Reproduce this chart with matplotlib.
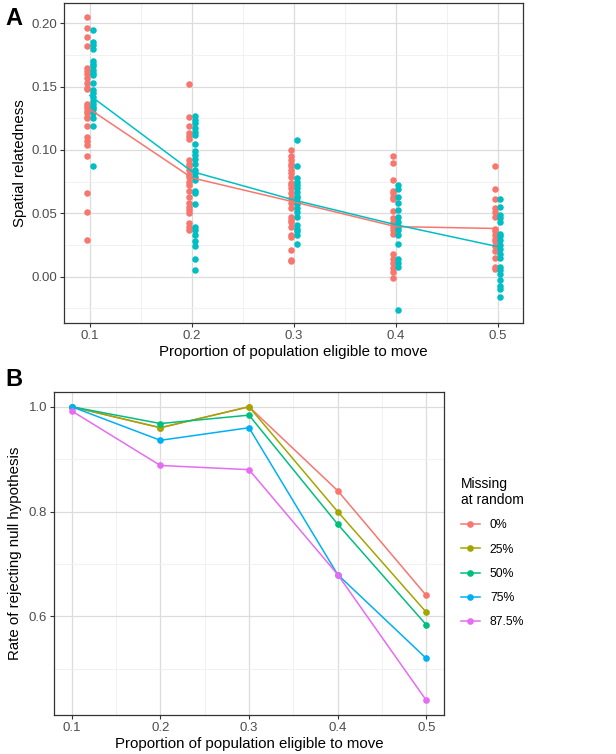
import matplotlib.pyplot as plt
import numpy as np

plt.rcParams['font.family'] = ['Liberation Sans', 'DejaVu Sans']

# panel A: spatial relatedness per proportion eligible to move
props = [0.1, 0.2, 0.3, 0.4, 0.5]
red_pts = [
    [0.205, 0.196, 0.189, 0.182, 0.165, 0.162, 0.160, 0.157, 0.153, 0.149, 0.148, 0.136, 0.135,
     0.133, 0.131, 0.129, 0.126, 0.125, 0.119, 0.110, 0.107, 0.104, 0.095, 0.066, 0.051, 0.029],
    [0.152, 0.126, 0.119, 0.113, 0.111, 0.109, 0.092, 0.089, 0.087, 0.084, 0.080, 0.079, 0.075,
     0.072, 0.068, 0.063, 0.058, 0.055, 0.053, 0.050, 0.042, 0.039, 0.037],
    [0.100, 0.095, 0.092, 0.089, 0.087, 0.084, 0.082, 0.079, 0.074, 0.072, 0.070, 0.066, 0.062,
     0.058, 0.054, 0.047, 0.045, 0.043, 0.039, 0.033, 0.031, 0.021, 0.013, 0.012],
    [0.095, 0.090, 0.076, 0.068, 0.066, 0.063, 0.061, 0.052, 0.046, 0.043, 0.039, 0.037, 0.034,
     0.018, 0.014, 0.011, 0.007, 0.004, -0.001],
    [0.087, 0.069, 0.061, 0.054, 0.051, 0.047, 0.038, 0.036, 0.033, 0.030, 0.028, 0.024, 0.020,
     0.015, 0.008, 0.006],
]
teal_pts = [
    [0.195, 0.185, 0.183, 0.180, 0.170, 0.168, 0.166, 0.163, 0.161, 0.159, 0.153, 0.147, 0.145,
     0.142, 0.139, 0.136, 0.134, 0.132, 0.129, 0.125, 0.119, 0.087],
    [0.127, 0.124, 0.121, 0.117, 0.114, 0.112, 0.105, 0.099, 0.096, 0.093, 0.089, 0.084, 0.082,
     0.079, 0.076, 0.068, 0.066, 0.057, 0.039, 0.037, 0.033, 0.028, 0.024, 0.014, 0.005],
    [0.108, 0.087, 0.078, 0.075, 0.072, 0.070, 0.067, 0.064, 0.062, 0.059, 0.057, 0.054, 0.051,
     0.047, 0.041, 0.038, 0.036, 0.033, 0.026],
    [0.072, 0.069, 0.063, 0.058, 0.053, 0.047, 0.043, 0.039, 0.037, 0.033, 0.026, 0.014, 0.011,
     0.008, -0.026],
    [0.061, 0.055, 0.049, 0.046, 0.043, 0.034, 0.032, 0.029, 0.025, 0.022, 0.018, 0.015, 0.008,
     0.005, 0.002, -0.003, -0.007, -0.010, -0.016],
]
red_mean = [0.132, 0.078, 0.059, 0.0395, 0.038]
teal_mean = [0.143, 0.083, 0.0605, 0.041, 0.0237]

# panel B: rejection rate by missingness
missing = ['0%', '25%', '50%', '75%', '87.5%']
rates = [
    [1.0, 0.96, 1.0, 0.84, 0.64],
    [1.0, 0.96, 1.0, 0.80, 0.608],
    [1.0, 0.968, 0.984, 0.776, 0.584],
    [1.0, 0.936, 0.96, 0.68, 0.52],
    [0.992, 0.888, 0.88, 0.68, 0.44],
]
hue5 = ['#F8766D', '#A3A500', '#00BF7D', '#00B0F6', '#E76BF3']


def style_ax(ax):
    ax.set_facecolor('white')
    for s in ax.spines.values():
        s.set_color('#333333')
        s.set_linewidth(0.9)
    ax.grid(True, which='major', color='#DCDCDC', linewidth=0.9)
    ax.grid(True, which='minor', color='#EFEFEF', linewidth=0.6)
    ax.set_axisbelow(True)
    ax.tick_params(which='major', length=3, width=0.8, color='#333333',
                   labelsize=9.5, labelcolor='#4D4D4D', pad=2)
    ax.tick_params(which='minor', length=0)


fig = plt.figure(figsize=(6.16, 7.54), dpi=100)

axA = fig.add_axes([0.1039, 0.5716, 0.7451, 0.4244])
style_ax(axA)
for i, x in enumerate(props):
    axA.scatter(np.full(len(red_pts[i]), x - 0.0026), red_pts[i], s=22, color='#F8766D',
                linewidths=0, zorder=3)
    axA.scatter(np.full(len(teal_pts[i]), x + 0.0026), teal_pts[i], s=22, color='#00BFC4',
                linewidths=0, zorder=3)
axA.plot(props, red_mean, color='#F8766D', lw=1.1, zorder=4)
axA.plot(props, teal_mean, color='#00BFC4', lw=1.1, zorder=4)
axA.set_xlim(0.0745, 0.5248)
axA.set_ylim(-0.0366, 0.216)
axA.set_xticks(props)
axA.set_xticks([0.15, 0.25, 0.35, 0.45], minor=True)
axA.set_yticks([0.0, 0.05, 0.10, 0.15, 0.20])
axA.set_yticks([-0.025, 0.025, 0.075, 0.125, 0.175], minor=True)
axA.set_yticklabels(['0.00', '0.05', '0.10', '0.15', '0.20'])
axA.set_xlabel('Proportion of population eligible to move', fontsize=10.8, labelpad=2)
axA.set_ylabel('Spatial relatedness', fontsize=10.8, labelpad=3)

axB = fig.add_axes([0.0877, 0.0517, 0.6331, 0.4283])
style_ax(axB)
for k in range(len(missing)):
    axB.plot(props, rates[k], color=hue5[k], lw=1.1, marker='o', markersize=4.8,
             markeredgewidth=0, label=missing[k], zorder=3)
axB.set_xlim(0.08, 0.52)
axB.set_ylim(0.412, 1.028)
axB.set_xticks(props)
axB.set_xticks([0.15, 0.25, 0.35, 0.45], minor=True)
axB.set_yticks([0.6, 0.8, 1.0])
axB.set_yticklabels(['0.6', '0.8', '1.0'])
axB.set_yticks([0.5, 0.7, 0.9], minor=True)
axB.set_xlabel('Proportion of population eligible to move', fontsize=10.8, labelpad=2)
axB.set_ylabel('Rate of rejecting null hypothesis', fontsize=10.8, labelpad=5)

leg = axB.legend(title='Missing\nat random', loc='upper left', bbox_to_anchor=(1.03, 0.752),
                 frameon=False, fontsize=8.8, title_fontsize=10, handlelength=1.6,
                 handletextpad=0.8, labelspacing=1.0, borderaxespad=0)
leg._legend_box.align = 'left'

fig.text(0.008, 0.975, 'A', fontsize=17, fontweight='bold', va='center')
fig.text(0.008, 0.497, 'B', fontsize=17, fontweight='bold', va='center')

fig.savefig('out.png', dpi=100)
